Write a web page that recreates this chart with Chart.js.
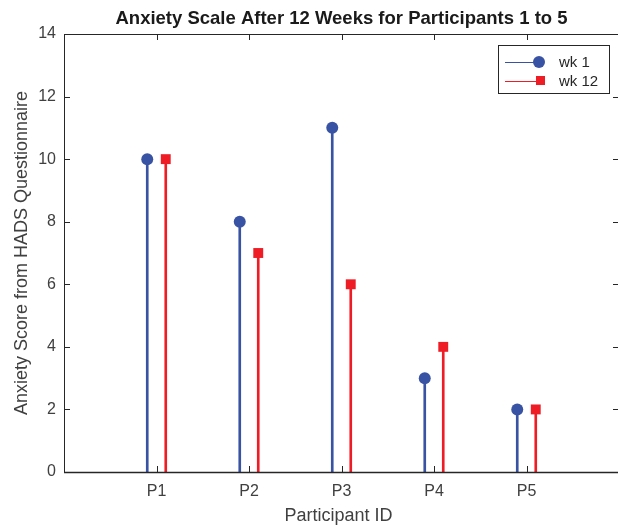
<!DOCTYPE html>
<html lang="en">
<head>
    <meta charset="UTF-8">
    <title>Anxiety Scale After 12 Weeks</title>
    <script src="https://cdn.jsdelivr.net/npm/chart.js"></script>
    <style>
        body { margin: 0; background: #fff; overflow: hidden; }
        /* the plot box runs off the right edge, as in the original figure */
        #wrap { width: 618px; height: 525px; overflow: hidden; }
        canvas { display: block; }
    </style>
</head>
<body>
    <div id="wrap">
        <canvas id="plot" width="626" height="525"></canvas>
    </div>

    <script>
        // data
        const participants = ['P1', 'P2', 'P3', 'P4', 'P5'];
        const week1 = [10, 8, 11, 3, 2];
        const week12 = [10, 7, 6, 4, 2];
        const yTicks = [0, 2, 4, 6, 8, 10, 12, 14];

        const chartTitle = 'Anxiety Scale After 12 Weeks for Participants 1 to 5';
        const xTitle = 'Participant ID';
        const yTitle = 'Anxiety Score from HADS Questionnaire';
        const seriesNames = ['wk 1', 'wk 12'];

        const blue = '#3953a4';
        const red = '#ee1c25';
        const axisColor = '#262626';
        const textColor = '#404040';
        const font = '"Liberation Sans", Arial, Helvetica, sans-serif';

        // stems sit a little either side of the category tick
        const shift = 0.1;
        const blueXY = week1.map((v, i) => ({ x: i + 1 - shift, y: v }));
        const redXY = week12.map((v, i) => ({ x: i + 1 + shift, y: v }));

        // MATLAB style box, inward ticks, titles and legend
        const matlabLook = {
            id: 'matlabLook',
            afterDraw(chart) {
                const ctx = chart.ctx;
                const a = chart.chartArea;
                const xs = chart.scales.x;
                const ys = chart.scales.y;
                const midX = (a.left + a.right) / 2;
                ctx.save();
                ctx.strokeStyle = axisColor;
                ctx.lineWidth = 1;

                // box
                ctx.strokeRect(a.left + 0.5, a.top + 0.5, a.right - a.left, a.bottom - a.top);

                // ticks pointing in
                const tl = 6;
                ctx.beginPath();
                yTicks.forEach(v => {
                    const y = Math.round(ys.getPixelForValue(v)) + 0.5;
                    ctx.moveTo(a.left, y); ctx.lineTo(a.left + tl, y);
                    ctx.moveTo(a.right, y); ctx.lineTo(a.right - tl, y);
                });
                participants.forEach((p, i) => {
                    const x = Math.round(xs.getPixelForValue(i + 1)) + 0.5;
                    ctx.moveTo(x, a.bottom); ctx.lineTo(x, a.bottom - tl);
                    ctx.moveTo(x, a.top); ctx.lineTo(x, a.top + tl);
                });
                ctx.stroke();

                // bottom axis line slightly heavier
                ctx.beginPath();
                ctx.moveTo(a.left, a.bottom + 0.5);
                ctx.lineTo(a.right, a.bottom + 0.5);
                ctx.lineWidth = 1.5;
                ctx.stroke();

                // title
                ctx.fillStyle = '#1a1a1a';
                ctx.font = 'bold 18.5px ' + font;
                ctx.textAlign = 'center';
                ctx.textBaseline = 'middle';
                ctx.fillText(chartTitle, midX, 19);

                // axis titles
                ctx.fillStyle = textColor;
                ctx.font = '18px ' + font;
                ctx.fillText(xTitle, midX - 3, 516);
                ctx.save();
                ctx.translate(22, (a.top + a.bottom) / 2);
                ctx.rotate(-Math.PI / 2);
                ctx.fillText(yTitle, 0, 0);
                ctx.restore();

                // legend
                const lx = 498, ly = 45, lw = 111, lh = 48;
                ctx.fillStyle = '#fff';
                ctx.fillRect(lx, ly, lw, lh);
                ctx.strokeStyle = axisColor;
                ctx.lineWidth = 1;
                ctx.strokeRect(lx + 0.5, ly + 0.5, lw, lh);
                const rows = [
                    { name: seriesNames[0], color: blue, shape: 'circle', y: ly + 17 },
                    { name: seriesNames[1], color: red, shape: 'rect', y: ly + 36 }
                ];
                rows.forEach(r => {
                    ctx.strokeStyle = r.color;
                    ctx.lineWidth = 1;
                    ctx.beginPath();
                    ctx.moveTo(lx + 7, r.y + 0.5);
                    ctx.lineTo(lx + 42, r.y + 0.5);
                    ctx.stroke();
                    ctx.fillStyle = r.color;
                    if (r.shape === 'circle') {
                        ctx.beginPath();
                        ctx.arc(lx + 41, r.y, 6, 0, Math.PI * 2);
                        ctx.fill();
                    } else {
                        ctx.fillRect(lx + 38, r.y - 5, 9, 9);
                    }
                    ctx.fillStyle = '#262626';
                    ctx.font = '15px ' + font;
                    ctx.textAlign = 'left';
                    ctx.fillText(r.name, lx + 61, r.y + 1);
                });
                ctx.restore();
            }
        };

        const ctx = document.getElementById('plot').getContext('2d');
        const chart = new Chart(ctx, {
            data: {
                datasets: [
                    {
                        type: 'bar',
                        data: blueXY,
                        backgroundColor: blue,
                        barThickness: 2,
                        grouped: false,
                        order: 3
                    },
                    {
                        type: 'bar',
                        data: redXY,
                        backgroundColor: red,
                        barThickness: 2,
                        grouped: false,
                        order: 3
                    },
                    {
                        type: 'scatter',
                        label: seriesNames[0],
                        data: blueXY,
                        pointStyle: 'circle',
                        pointRadius: 6,
                        pointBorderWidth: 0,
                        backgroundColor: blue,
                        borderColor: blue,
                        order: 1
                    },
                    {
                        type: 'scatter',
                        label: seriesNames[1],
                        data: redXY,
                        pointStyle: 'rect',
                        pointRadius: 7,
                        pointBorderWidth: 0,
                        backgroundColor: red,
                        borderColor: red,
                        order: 1
                    }
                ]
            },
            options: {
                responsive: false,
                animation: false,
                events: [],
                layout: { padding: { top: 34, right: 0, bottom: 0, left: 0 } },
                plugins: {
                    legend: { display: false },
                    title: { display: false },
                    tooltip: { enabled: false }
                },
                scales: {
                    x: {
                        type: 'linear',
                        offset: false,
                        min: 0,
                        max: participants.length + 1,
                        grid: { display: false, drawTicks: false, offset: false },
                        border: { display: false },
                        afterBuildTicks: scale => {
                            scale.ticks = participants.map((p, i) => ({ value: i + 1 }));
                        },
                        afterFit: scale => {
                            scale.height = 53;
                            scale.paddingLeft = 0;
                            scale.paddingRight = 0;
                        },
                        ticks: {
                            padding: 10,
                            color: textColor,
                            font: { family: font, size: 16 },
                            callback: v => participants[v - 1]
                        }
                    },
                    y: {
                        min: 0,
                        max: 14,
                        grid: { display: false, drawTicks: false },
                        border: { display: false },
                        afterBuildTicks: scale => {
                            scale.ticks = yTicks.map(v => ({ value: v }));
                        },
                        afterFit: scale => { scale.width = 64; },
                        ticks: {
                            padding: 8,
                            color: textColor,
                            font: { family: font, size: 16 }
                        }
                    }
                }
            },
            plugins: [matlabLook]
        });
    </script>
</body>
</html>
